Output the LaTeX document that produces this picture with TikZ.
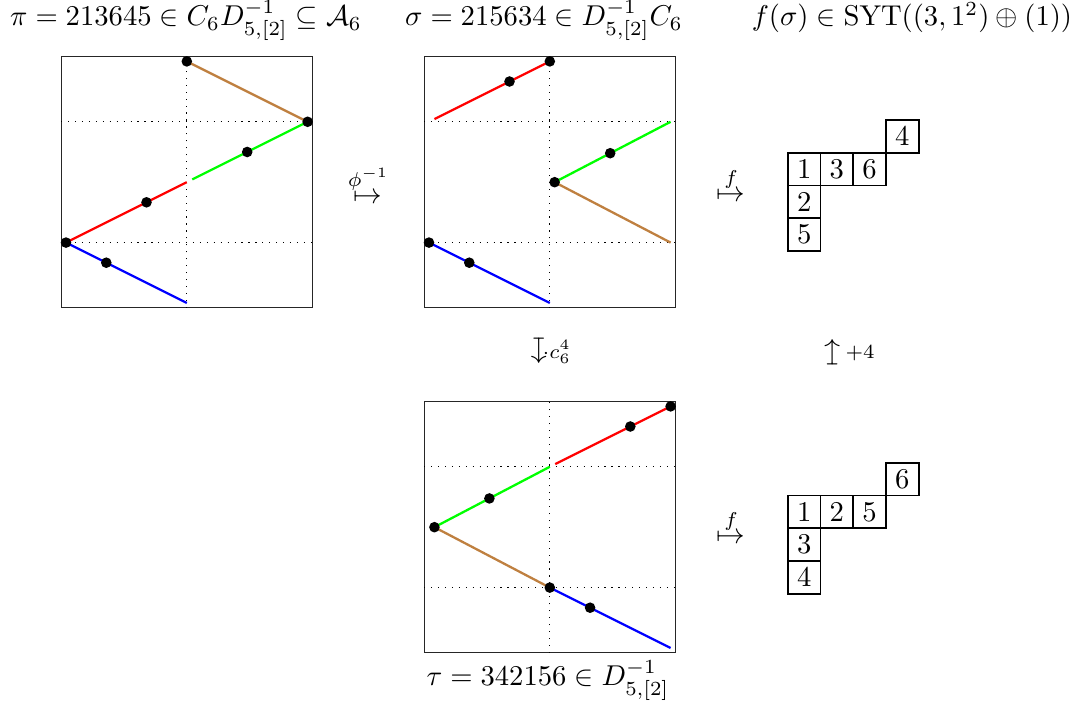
\documentclass[tikz,border=0pt]{standalone}
\usepackage{amsmath,amssymb,graphicx}
\begin{document}
\begin{tikzpicture}[x=0.349pt,y=-0.349pt,
  dot/.style={circle,fill=black,inner sep=0pt,minimum size=3.7pt},
  frame/.style={draw=black!85,line width=0.42pt},
  guide/.style={dotted,line width=0.42pt},
  seg/.style={line width=0.8pt},
  cell/.style={draw,line width=0.6pt,minimum size=11.41pt,inner sep=0pt,anchor=north west},
  lbl/.style={inner sep=0pt}]
\useasboundingbox (0,0) rectangle (1078,702);

% titles
\node[anchor=base] (t1) at (186,26) {$\pi = 213645 \in C_6D^{-1}_{5,[2]} \subseteq \mathcal{A}_6$};
\node[anchor=base] (t2) at (544,26) {$\sigma = 215634 \in D^{-1}_{5,[2]}C_6$};
\node[anchor=base] (t3) at (912,26) {$f(\sigma) \in \mathrm{SYT}((3,1^2)\oplus(1))$};
\node[anchor=base] (t4) at (548,686) {$\tau = 342156 \in D^{-1}_{5,[2]}$};

% panel 1
\begin{scope}[shift={(66,303)},x=21.08pt,y=21.08pt]
  \draw[frame] (-0.08,-0.08) rectangle (4.08,4.08);
  \draw[guide] (2,-0.08) -- (2,4.08);
  \draw[guide] (-0.08,1) -- (4.08,1);
  \draw[guide] (-0.08,3) -- (4.08,3);
  \coordinate (A1) at (0,1);
  \coordinate (A2) at (0.667,0.667);
  \coordinate (A3) at (1.333,1.667);
  \coordinate (A4) at (2,4);
  \coordinate (A5) at (3,2.5);
  \coordinate (A6) at (4,3);
  \coordinate (Ar) at (2,2);
  \coordinate (Ab) at (2,0);
  \coordinate (Ag) at (2.09,2.045);
  \draw[seg,brown] (A4) -- (A6);
  \draw[seg,green] (Ag) -- (A6);
  \draw[seg,red] (A1) -- (Ar);
  \draw[seg,blue] (A1) -- (Ab);
\end{scope}

% panel 2
\begin{scope}[shift={(429,303)},x=21.08pt,y=21.08pt]
  \draw[frame] (-0.08,-0.08) rectangle (4.08,4.08);
  \draw[guide] (2,-0.08) -- (2,4.08);
  \draw[guide] (-0.08,1) -- (4.08,1);
  \draw[guide] (-0.08,3) -- (4.08,3);
  \coordinate (B1) at (0,1);
  \coordinate (B2) at (0.667,0.667);
  \coordinate (B3) at (2.08,2);
  \coordinate (B4) at (3,2.48);
  \coordinate (B5) at (1.333,3.667);
  \coordinate (B6) at (2,4);
  \coordinate (Bb) at (2,0);
  \coordinate (Br) at (0.09,3.045);
  \coordinate (Bg) at (4,3);
  \coordinate (Bn) at (4,1);
  \draw[seg,blue] (B1) -- (Bb);
  \draw[seg,red] (Br) -- (B6);
  \draw[seg,green] (B3) -- (Bg);
  \draw[seg,brown] (B3) -- (Bn);
\end{scope}

% panel 3
\begin{scope}[shift={(429,648)},x=21.08pt,y=21.08pt]
  \draw[frame] (-0.08,-0.08) rectangle (4.08,4.08);
  \draw[guide] (2,-0.08) -- (2,4.08);
  \draw[guide] (-0.08,1) -- (4.08,1);
  \draw[guide] (-0.08,3) -- (4.08,3);
  \coordinate (C3) at (0.09,2);
  \coordinate (C4) at (1,2.476);
  \coordinate (C2) at (2,1);
  \coordinate (C1) at (2.667,0.667);
  \coordinate (C5) at (3.333,3.667);
  \coordinate (C6) at (4,4);
  \coordinate (Cg) at (2,3);
  \coordinate (Cb) at (4,0);
  \coordinate (Cr) at (2.09,3.045);
  \draw[seg,green] (C3) -- (Cg);
  \draw[seg,brown] (C3) -- (C2);
  \draw[seg,blue] (C2) -- (Cb);
  \draw[seg,red] (Cr) -- (C6);
\end{scope}

% dots
\foreach \p in {A1,A2,A3,A4,A5,A6,B1,B2,B3,B4,B5,B6,C1,C2,C3,C4,C5,C6}
  \node[dot] (d\p) at (\p) {};

% maps
\node[anchor=base] (m1) at (368,204) {$\overset{\phi^{-1}}{\mapsto}$};
\node[anchor=base] (m2) at (731,202) {$\overset{f}{\mapsto}$};
\node[anchor=base] (m3) at (731,544) {$\overset{f}{\mapsto}$};
\node[inner sep=0pt] (v1) at (537,351) {\rotatebox[origin=c]{-90}{$\mapsto$}};
\node[lbl,anchor=west] (v1l) at (542,352) {$\scriptstyle\cdot c_6^4$};
\node[inner sep=0pt] (v2) at (834,352) {\rotatebox[origin=c]{90}{$\mapsto$}};
\node[lbl,anchor=west] (v2l) at (845,353) {$\scriptstyle +4$};

% tableau 1
\node[cell] (s11) at (787,152) {$1$};
\node[cell] (s12) at (819.7,152) {$3$};
\node[cell] (s13) at (852.4,152) {$6$};
\node[cell] (s14) at (787,184.7) {$2$};
\node[cell] (s15) at (787,217.4) {$5$};
\node[cell] (s16) at (885.1,119.3) {$4$};

% tableau 2
\node[cell] (s21) at (787,494.7) {$1$};
\node[cell] (s22) at (819.7,494.7) {$2$};
\node[cell] (s23) at (852.4,494.7) {$5$};
\node[cell] (s24) at (787,527.4) {$3$};
\node[cell] (s25) at (787,560.1) {$4$};
\node[cell] (s26) at (885.1,462) {$6$};
\end{tikzpicture}
\end{document}
